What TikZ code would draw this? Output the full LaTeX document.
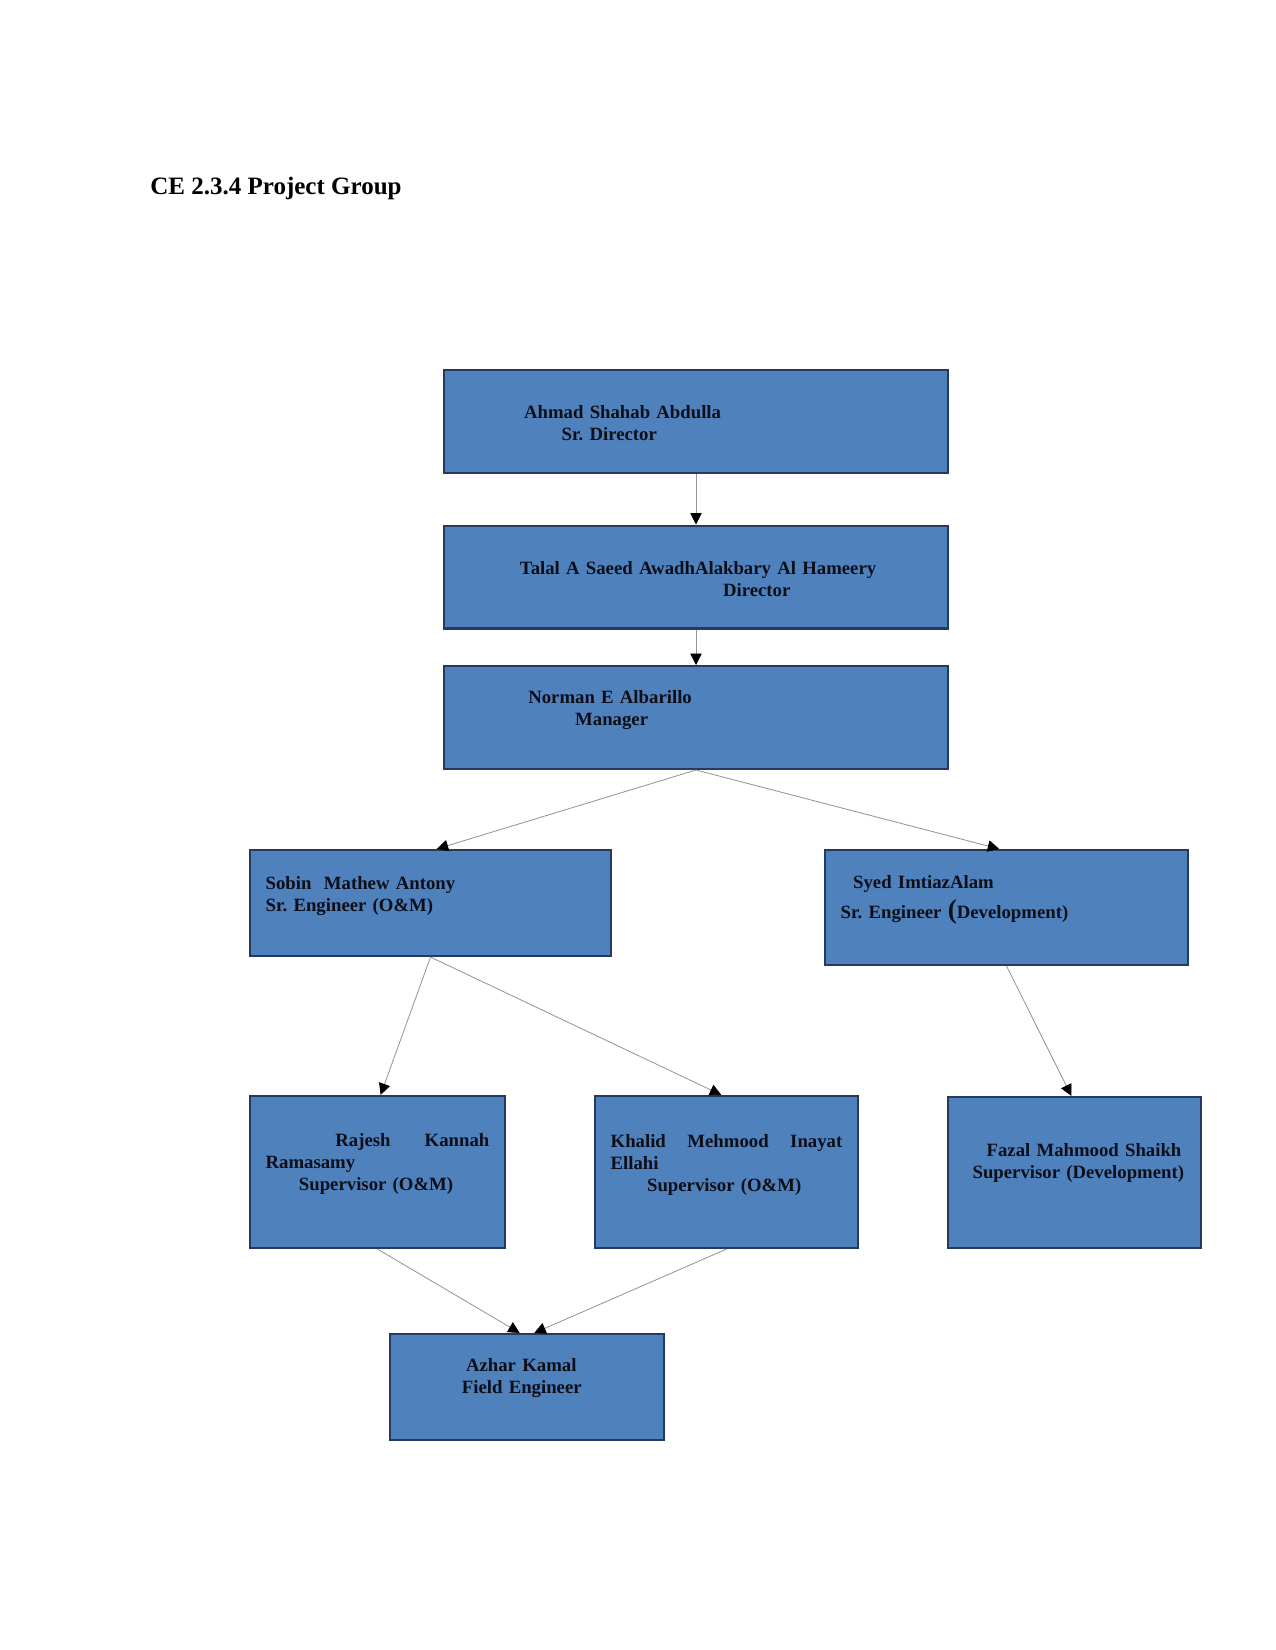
\documentclass[tikz,border=0pt]{standalone}
\usepackage{fontspec}
\setmainfont{Liberation Serif}
\usetikzlibrary{arrows.meta, positioning}
\frenchspacing
\definecolor{boxfill}{RGB}{79, 129, 189}
\definecolor{boxline}{RGB}{36, 58, 94}
\definecolor{boxtext}{RGB}{12, 14, 24}
\definecolor{linkcolor}{RGB}{150, 150, 150}
\tikzset{
  orgbox/.style={
    rectangle, draw=boxline, line width=1pt,
    fill=boxfill, text=boxtext,
    inner xsep=7.5pt, inner ysep=0pt,
    align=left, font=\fontsize{9}{10.6}\selectfont\bfseries
  },
  lift/.style={
    execute at end node={\par\vspace*{#1}}
  },
  link/.style={
    draw=linkcolor, line width=0.4pt,
    -{Triangle[length=5.5pt, width=5.5pt, color=black]}
  }
}
\begin{document}
\begin{tikzpicture}[x=0.48pt, y=-0.48pt]

  % ── Page frame ─────────────────────────────────────────────
  \path[use as bounding box, fill=white] (0,0) rectangle (1275,1650);

  % ── Heading ────────────────────────────────────────────────
  \node[anchor=base west, inner sep=0pt, font=\fontsize{12}{14}\selectfont\bfseries]
    (heading) at (150,195) {CE 2.3.4 Project Group};

  % ── Directors and manager ──────────────────────────────────
  \node[orgbox, lift=-2pt, text width=227pt, minimum height=49.4pt] (srdir) at (696,421.5)
    {\hspace*{31pt}Ahmad Shahab Abdulla\\ \hspace*{49pt}Sr. Director};
  \node[orgbox, lift=-2pt, text width=227pt, minimum height=49.4pt] (dir) at (696,577)
    {\hspace*{29pt}Talal A Saeed AwadhAlakbary Al Hameery\\ \hspace*{126.5pt}Director};
  \node[orgbox, lift=7pt, text width=227pt, minimum height=49.4pt] (mgr) at (696,717.5)
    {\hspace*{33pt}Norman E Albarillo\\ \hspace*{55.5pt}Manager};

  % ── Senior engineers ───────────────────────────────────────
  \node[orgbox, lift=7pt, text width=158.3pt, minimum height=50.9pt] (sreom) at (430.5,903)
    {Sobin\ \ Mathew Antony\\ Sr. Engineer (O\&M)};
  \node[orgbox, lift=7pt, text width=159.2pt, minimum height=55.2pt] (srdev) at (1006.5,907.5)
    {\hspace*{6pt}Syed ImtiazAlam\\[2.5pt] Sr. Engineer {\fontsize{13}{13}\selectfont(}Development)};

  % ── Supervisors ────────────────────────────────────────────
  \node[orgbox, lift=8pt, text width=107.4pt, minimum height=73pt] (supa) at (377.5,1172)
    {\hspace*{33.5pt}Rajesh\hfill Kannah\\ Ramasamy\\ \hspace*{16pt}Supervisor (O\&M)};
  \node[orgbox, lift=7pt, text width=111.2pt, minimum height=73pt] (supb) at (726.5,1172)
    {Khalid\hfill Mehmood\hfill Inayat\\ Ellahi\\ \hspace*{17.5pt}Supervisor (O\&M)};
  \node[orgbox, lift=9pt, text width=106.4pt, minimum height=72.5pt] (supdev) at (1074.5,1172.5)
    {\hspace*{11pt}Fazal Mahmood Shaikh\\ \hspace*{4.3pt}Supervisor (Development)};

  % ── Field engineer ─────────────────────────────────────────
  \node[orgbox, lift=9pt, text width=116.5pt, minimum height=50.9pt] (field) at (527,1387)
    {\hspace*{29pt}Azhar Kamal\\ \hspace*{27pt}Field Engineer};

  % ── Reporting lines ────────────────────────────────────────
  \draw[link] (srdir.south) -- (dir.north);
  \draw[link] (dir.south)   -- (mgr.north);
  \draw[link] (mgr.south)   -- ([xshift=3pt]sreom.north);
  \draw[link] (mgr.south)   -- ([xshift=-3.5pt]srdev.north);
  \draw[link] (sreom.south) -- ([xshift=1.5pt]supa.north);
  \draw[link] (sreom.south) -- ([xshift=-2.5pt]supb.north);
  \draw[link] (srdev.south) -- ([xshift=-1.5pt]supdev.north);
  \draw[link] (supa.south)  -- ([xshift=-3.5pt]field.north);
  \draw[link] (supb.south)  -- ([xshift=3.5pt]field.north);

\end{tikzpicture}
\end{document}
